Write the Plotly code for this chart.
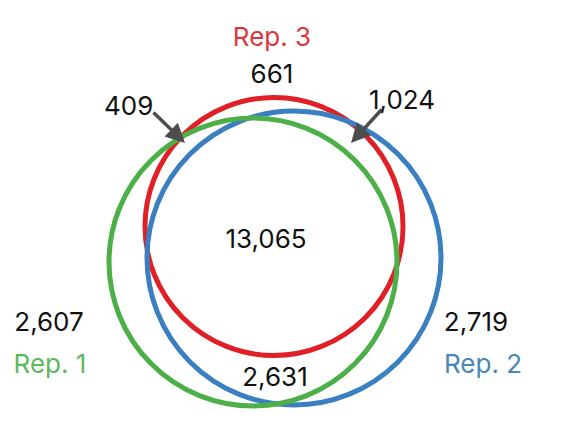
import plotly.graph_objects as go

# Venn counts
sets = ["Rep. 1", "Rep. 2", "Rep. 3"]
only_counts = [2607, 2719, 661]          # Rep.1 only, Rep.2 only, Rep.3 only
pair_labels = ["1&2", "1&3", "2&3"]
pair_counts = [2631, 409, 1024]
all_three = 13065

W, H = 562, 435
OFF = 8  # page body margin, keeps data coords == screen pixels
set_colors = ["#4caf47", "#3a7fc0", "#e02026"]
label_colors = ["#5cb85c", "#4a86b8", "#d9393e"]
FONT = "Inter"
FS = 26

# circle geometry (pixel space)
circles = {
    "Rep. 1": (253, 262, 144),
    "Rep. 2": (294, 258, 147),
    "Rep. 3": (274, 226.5, 129),
}


def fmt(n):
    return f"{n:,}"


fig = go.Figure()

shapes = []
for name in ["Rep. 3", "Rep. 2", "Rep. 1"]:
    cx, cy, r = circles[name]
    shapes.append(dict(
        type="circle", xref="x", yref="y",
        x0=cx - r, x1=cx + r, y0=cy - r, y1=cy + r,
        line=dict(color=set_colors[sets.index(name)], width=5),
        fillcolor="rgba(0,0,0,0)",
    ))

# plain count labels
txt_x = [49, 476, 272, 275, 266]
txt_y = [324, 324, 76, 379, 241]
txt = [fmt(only_counts[0]), fmt(only_counts[1]), fmt(only_counts[2]),
       fmt(pair_counts[0]), fmt(all_three)]
fig.add_trace(go.Scatter(
    x=txt_x, y=txt_y, text=txt, mode="text",
    textfont=dict(family=FONT, size=FS, color="#111111"),
    hoverinfo="skip", showlegend=False,
))

# set name labels
fig.add_trace(go.Scatter(
    x=[50, 483, 272], y=[366, 366, 39], text=sets, mode="text",
    textfont=dict(family=FONT, size=FS, color=label_colors),
    hoverinfo="skip", showlegend=False,
))

annotations = [
    dict(x=185, y=143, ax=152, ay=111, xref="x", yref="y", axref="x", ayref="y",
         text="", showarrow=True, arrowhead=2, arrowsize=1.1, arrowwidth=3.5,
         arrowcolor="#4d4d4d"),
    dict(x=351, y=143, ax=383, ay=108, xref="x", yref="y", axref="x", ayref="y",
         text="", showarrow=True, arrowhead=2, arrowsize=1.1, arrowwidth=3.5,
         arrowcolor="#4d4d4d"),
    dict(x=128, y=105, xref="x", yref="y", text=fmt(pair_counts[1]), showarrow=False,
         font=dict(family=FONT, size=FS, color="#111111")),
    dict(x=402, y=99, xref="x", yref="y", text=fmt(pair_counts[2]), showarrow=False,
         font=dict(family=FONT, size=FS, color="#111111")),
]

fig.update_layout(
    width=W, height=H,
    margin=dict(l=0, r=0, t=0, b=0),
    paper_bgcolor="white", plot_bgcolor="white",
    shapes=shapes, annotations=annotations,
    xaxis=dict(range=[OFF, W + OFF], visible=False, fixedrange=True),
    yaxis=dict(range=[H + OFF, OFF], visible=False, fixedrange=True),
    showlegend=False,
)

fig.write_html("out.html")
